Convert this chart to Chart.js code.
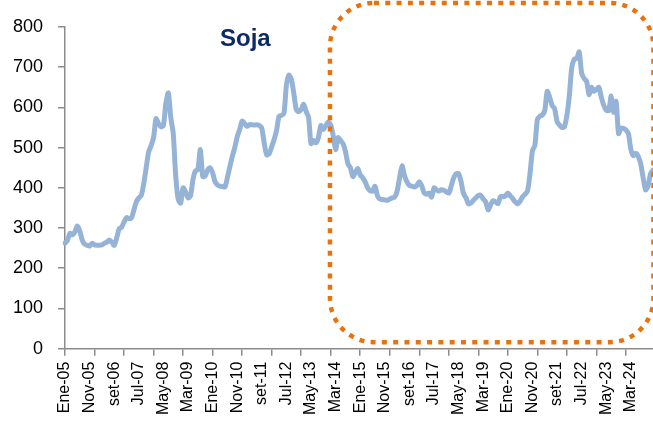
<!DOCTYPE html>
<html>
<head>
<meta charset="utf-8">
<script src="https://cdn.jsdelivr.net/npm/chart.js@4/dist/chart.umd.min.js"></script>
<style>
  html, body { margin: 0; padding: 0; background: #fff; }
  canvas { display: block; }
</style>
</head>
<body>
<canvas id="graficoSoja" width="653" height="425"></canvas>
<script>
// Meses en el formato del eje (septiembre va como "set")
const meses = ["Ene", "Feb", "Mar", "Abr", "May", "Jun", "Jul", "Ago", "set", "Oct", "Nov", "Dic"];
const anios = ["05", "06", "07", "08", "09", "10", "11", "12", "13", "14",
               "15", "16", "17", "18", "19", "20", "21", "22", "23", "24"];

// Precio soja, serie mensual Ene-05 a Dic-24
const soja2005_2009 = [
  262, 270, 287, 283, 290, 305, 293, 270, 260, 257, 255, 262,
  258, 257, 257, 258, 262, 265, 270, 265, 257, 275, 298, 302,
  315, 326, 323, 325, 345, 365, 375, 381, 410, 450, 489, 505,
  525, 572, 560, 552, 555, 610, 636, 575, 535, 430, 372, 362,
  400, 390, 375, 380, 420, 442, 445, 495, 428, 430, 445, 450
];
const soja2010_2014 = [
  437, 415, 407, 404, 403, 402, 425, 452, 478, 500, 527, 545,
  566, 560, 553, 557, 557, 556, 557, 555, 548, 510, 482, 485,
  502, 520, 543, 578, 580, 585, 655, 680, 670, 635, 595, 589,
  595, 608, 590, 575, 510, 518, 512, 525, 555, 545, 555, 564,
  556, 530, 495, 525, 518, 510, 490, 460, 450, 428, 438, 448
];
const soja2015_2019 = [
  432, 425, 415, 400, 393, 392, 404, 380, 372, 371, 370, 369,
  372, 375, 377, 392, 425, 455, 430, 415, 406, 404, 402, 406,
  415, 405, 387, 384, 387, 377, 400, 395, 392, 395, 394, 390,
  387, 405, 425, 435, 435, 415, 385, 375, 360, 362, 369, 375,
  381, 381, 372, 365, 345, 358, 368, 365, 361, 378, 378, 380
];
const soja2020_2024 = [
  387, 380, 373, 365, 360, 367, 378, 384, 392, 435, 492, 506,
  570, 578, 581, 592, 640, 625, 605, 597, 565, 556, 550, 552,
  580, 630, 700, 720, 722, 738, 685, 672, 665, 632, 650, 640,
  645, 650, 625, 605, 593, 592, 628, 588, 615, 535, 548, 548,
  544, 535, 496, 480, 486, 478, 460, 425, 395, 405, 435, 444
];

const valoresSoja = [].concat(soja2005_2009, soja2010_2014, soja2015_2019, soja2020_2024);
const etiquetas = [];
anios.forEach(a => meses.forEach(m => etiquetas.push(m + "-" + a)));

// Recuadro punteado (en unidades de los ejes)
const recuadro = { desde: 107.7, hasta: 239.2, arriba: 860, abajo: 16 };
// Posición del título "Soja"
const tituloPos = { x: 73.3, y: 753 };

const gris = "#8c8c8c";
const naranja = "#E8730E";

const extras = {
  id: "extras",
  afterDraw(chart) {
    const c = chart.ctx;
    const xs = chart.scales.x, ys = chart.scales.y;
    // recuadro redondeado
    const x0 = xs.getPixelForValue(recuadro.desde);
    const x1 = xs.getPixelForValue(recuadro.hasta);
    const y0 = ys.getPixelForValue(recuadro.arriba);
    const y1 = ys.getPixelForValue(recuadro.abajo);
    c.save();
    c.strokeStyle = naranja;
    c.lineWidth = 4.5;
    c.setLineDash([5, 6.3]);
    c.beginPath();
    c.roundRect(x0, y0, x1 - x0, y1 - y0, 44);
    c.stroke();
    c.restore();

    // título
    c.save();
    c.font = "bold 24px 'Liberation Sans', Arial, sans-serif";
    c.fillStyle = "#0b2a66";
    c.textAlign = "center";
    c.textBaseline = "alphabetic";
    c.fillText("Soja", xs.getPixelForValue(tituloPos.x), ys.getPixelForValue(tituloPos.y));
    c.restore();
  }
};

const ctxSoja = document.getElementById("graficoSoja").getContext("2d");
const graficoSoja = new Chart(ctxSoja, {
  type: "line",
  data: {
    labels: etiquetas,
    datasets: [
      {
        label: "Soja",
        data: valoresSoja,
        borderColor: "#95B3D7",
        borderWidth: 5,
        pointRadius: 0,
        tension: 0.25,
        borderJoinStyle: "round",
        borderCapStyle: "round",
        fill: false,
      }
    ],
  },
  options: {
    responsive: false,
    animation: false,
    layout: { padding: { top: 27, left: 10, right: 0, bottom: 4 } },
    plugins: {
      legend: { display: false },
      tooltip: { enabled: false },
    },
    scales: {
      x: {
        offset: false,
        border: { color: gris, width: 1.5 },
        grid: {
          drawOnChartArea: false,
          drawTicks: true,
          tickLength: 7,
          lineWidth: 1.5,
          color: (ctx) => (ctx.index % 12 === 0 ? gris : "rgba(0,0,0,0)"),
        },
        ticks: {
          autoSkip: false,
          maxRotation: 90,
          minRotation: 90,
          padding: 6,
          color: "#000",
          font: { family: "'Liberation Sans', Arial, sans-serif", size: 16 },
          callback: (v, i) => (i % 10 === 0 ? etiquetas[i] : ""),
        },
        // sin margen extra a los lados por las etiquetas giradas
        afterFit: (scale) => {
          scale.paddingLeft = 0;
          scale.paddingRight = 0;
        },
      },
      y: {
        min: 0,
        max: 800,
        border: { color: gris, width: 1.5 },
        grid: {
          drawOnChartArea: false,
          drawTicks: true,
          tickLength: 7,
          lineWidth: 1.5,
          color: gris,
        },
        ticks: {
          stepSize: 100,
          padding: 15,
          color: "#000",
          font: { family: "'Liberation Sans', Arial, sans-serif", size: 18 },
        },
        afterFit: (scale) => {
          scale.width = 55;
        },
      },
    },
  },
  plugins: [extras],
});
</script>
</body>
</html>
